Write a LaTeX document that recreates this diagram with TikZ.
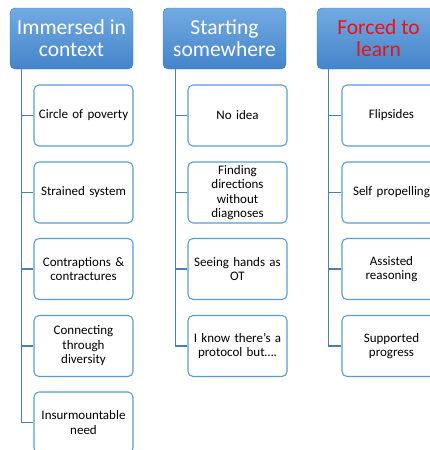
\documentclass[tikz,border=0pt]{standalone}
\usepackage{fontspec}
\setmainfont{Carlito}
\definecolor{hdrtop}{HTML}{72AAE2}
\definecolor{hdrbot}{HTML}{4584CA}
\definecolor{boxblue}{HTML}{5B9BD5}
\definecolor{trunkblue}{HTML}{4A7EBB}
\definecolor{hdrred}{HTML}{F01010}
\begin{document}
\begin{tikzpicture}[x=1pt,y=-1pt,
  hdr/.style={rounded corners=5pt, top color=hdrtop, bottom color=hdrbot, draw=hdrbot!90!black, line width=0.4pt,
    minimum width=123pt, minimum height=61pt, inner sep=0pt, text=white, align=center,
    font=\fontsize{21.5}{22}\selectfont},
  child/.style={draw=boxblue, line width=1.1pt, rounded corners=5pt, fill=white,
    minimum width=99pt, minimum height=61pt, inner sep=0pt, text width=97pt, align=center,
    font=\fontsize{13}{14.5}\selectfont},
  conn/.style={draw=trunkblue, line width=1.3pt}]
\clip (0,0) rectangle (430,450);
\useasboundingbox (0,0) rectangle (430,450);
% headers
\node[hdr] (h1) at (71.5,38.5) {Immersed in\\context};
\node[hdr] (h2) at (224.5,38.5) {Starting\\somewhere};
\node[hdr, text=hdrred] (h3) at (378.5,38.5) {Forced to\\learn};
% trunk coordinates
\coordinate (t1) at ([xshift=12pt]h1.south west);
\coordinate (t2) at ([xshift=13pt]h2.south west);
\coordinate (t3) at ([xshift=12pt]h3.south west);
% column 1
\node[child] (a1) at (83.5,115.5) {Circle of poverty};
\node[child] (a2) at (83.5,192.5) {Strained system};
\node[child] (a3) at (83.5,269) {Contraptions \&\\contractures};
\node[child] (a4) at (83.5,346) {Connecting\\through\\diversity};
\node[child] (a5) at (83.5,422.5) {Insurmountable\\need};
% column 2
\node[child] (b1) at (237.5,115.5) {No idea};
\node[child] (b2) at (237.5,192.5) {Finding\\directions\\without\\diagnoses};
\node[child] (b3) at (237.5,269) {Seeing hands as\\OT};
\node[child] (b4) at (237.5,346) {I know there’s a\\protocol but….};
% column 3
\node[child] (c1) at (391.5,115.5) {Flipsides};
\node[child] (c2) at (391.5,192.5) {Self propelling};
\node[child] (c3) at (391.5,269) {Assisted\\reasoning};
\node[child] (c4) at (391.5,346) {Supported\\progress};
% connectors
\draw[conn] (t1) |- (a5.west);
\foreach \n in {a1,a2,a3,a4} \draw[conn] (\n.west) -- (\n.west -| t1);
\draw[conn] (t2) |- (b4.west);
\foreach \n in {b1,b2,b3} \draw[conn] (\n.west) -- (\n.west -| t2);
\draw[conn] (t3) |- (c4.west);
\foreach \n in {c1,c2,c3} \draw[conn] (\n.west) -- (\n.west -| t3);
\end{tikzpicture}
\end{document}
